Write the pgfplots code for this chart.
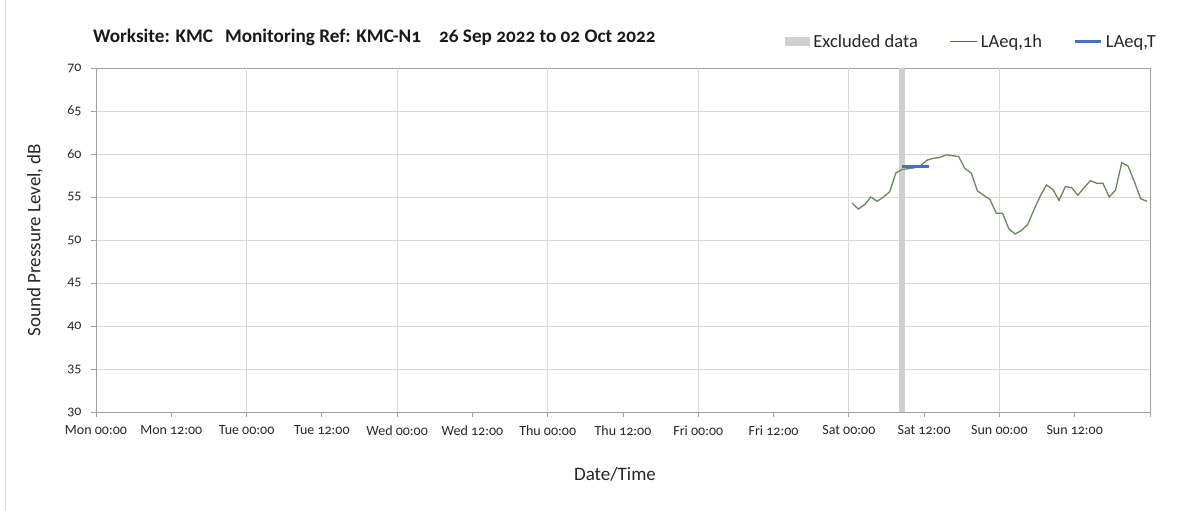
\documentclass[border=0pt]{standalone}
\usepackage{fontspec}
\setmainfont{Carlito}[Numbers=OldStyle]
\usepackage{pgfplots}
\pgfplotsset{compat=1.18}
\definecolor{lineg}{RGB}{105,135,90}
\definecolor{lblue}{RGB}{68,114,196}
\definecolor{exclg}{RGB}{208,208,208}
\definecolor{gridg}{RGB}{217,217,217}
\definecolor{axg}{RGB}{160,160,160}
\begin{document}
\begin{tikzpicture}
\path[use as bounding box] (0,0) rectangle (1203bp,511bp);
\draw[gridg, line width=1bp] (5.5bp,0) -- (5.5bp,511bp);
\node[anchor=west, font=\fontsize{19.2bp}{22bp}\selectfont\bfseries, inner sep=0pt, text=black!90] at (93bp,474bp)
  {Worksite: KMC\hspace{12bp}Monitoring Ref: KMC-N1\hspace{18bp}26 Sep 2022 to 02 Oct 2022};
\begin{axis}[
  scale only axis,
  width=1054bp, height=344bp,
  at={(96bp,99bp)}, anchor=south west,
  xmin=0, xmax=168, ymin=30, ymax=70,
  xtick={0,12,...,168},
  xticklabels={Mon 00:00,Mon 12:00,Tue 00:00,Tue 12:00,Wed 00:00,Wed 12:00,Thu 00:00,Thu 12:00,Fri 00:00,Fri 12:00,Sat 00:00,Sat 12:00,Sun 00:00,Sun 12:00,{}},
  extra x ticks={24,48,72,96,120,144},
  extra x tick labels={},
  extra x tick style={grid=major, major tick length=0pt},
  ytick={30,35,...,70},
  ymajorgrids,
  grid style={gridg, line width=0.8bp},
  axis line style={axg, line width=0.8bp},
  tick style={axg, line width=0.8bp},
  tick align=outside,
  major tick length=5bp,
  /pgf/number format/assume math mode=true,
  tick label style={font=\fontsize{14bp}{16bp}\selectfont, text=black!85},
  xticklabel style={yshift=-5bp},
  yticklabel style={xshift=-6bp},
  xtick pos=bottom, ytick pos=left,
  label style={font=\fontsize{19bp}{22bp}\selectfont, text=black!85},
  xlabel={Date/Time},
  ylabel={Sound Pressure Level, dB},
  xlabel style={at={(axis description cs:0.4924,-0.180)}, anchor=center},
  ylabel style={at={(axis description cs:-0.058,0.5)}, anchor=center},
  legend columns=3,
  legend style={at={(1.0076,1.0756)}, anchor=east, draw=none, fill=none,
    font=\fontsize{18.5bp}{21bp}\selectfont, text=black!85,
    inner sep=0pt,
    /tikz/every odd column/.append style={column sep=1bp},
    /tikz/every even column/.append style={column sep=30bp}},
  legend cell align=left,
]
\addplot[draw=none, fill=exclg,
  legend image code/.code={\fill[exclg] (0bp,-4.5bp) rectangle (25bp,4.5bp);}]
  coordinates {(128,70) (129,70)} \closedcycle;
\addlegendentry{Excluded data}
\addplot[lineg, line width=1.3bp,
  legend image code/.code={\draw[lineg!80!black, line width=1bp] (0bp,0bp) -- (27bp,0bp);}]
  coordinates {
(120.5,54.3) (121.5,53.6) (122.5,54.1) (123.5,55.0) (124.5,54.5) (125.5,55.0)
(126.5,55.6) (127.5,57.8) (128.5,58.2) (129.5,58.3) (130.5,58.4) (131.5,58.7)
(132.5,59.3) (133.5,59.5) (134.5,59.6) (135.5,59.9) (136.5,59.8) (137.5,59.7)
(138.5,58.3) (139.5,57.8) (140.5,55.7) (141.5,55.2) (142.5,54.7) (143.5,53.1)
(144.5,53.1) (145.5,51.3) (146.5,50.7) (147.5,51.1) (148.5,51.8) (149.5,53.5)
(150.5,55.1) (151.5,56.4) (152.5,55.9) (153.5,54.6) (154.5,56.2) (155.5,56.1)
(156.5,55.2) (157.5,56.1) (158.5,56.9) (159.5,56.6) (160.5,56.6) (161.5,55.0)
(162.5,55.8) (163.5,59.0) (164.5,58.6) (165.5,56.8) (166.5,54.8) (167.5,54.5)
  };
\addlegendentry{LAeq,1h}
\addplot[lblue, line width=3bp,
  legend image code/.code={\draw[lblue, line width=3bp] (0bp,0bp) -- (26bp,0bp);}]
  coordinates {(128.4,58.6) (132.7,58.6)};
\addlegendentry{LAeq,T}
\end{axis}
\end{tikzpicture}
\end{document}
